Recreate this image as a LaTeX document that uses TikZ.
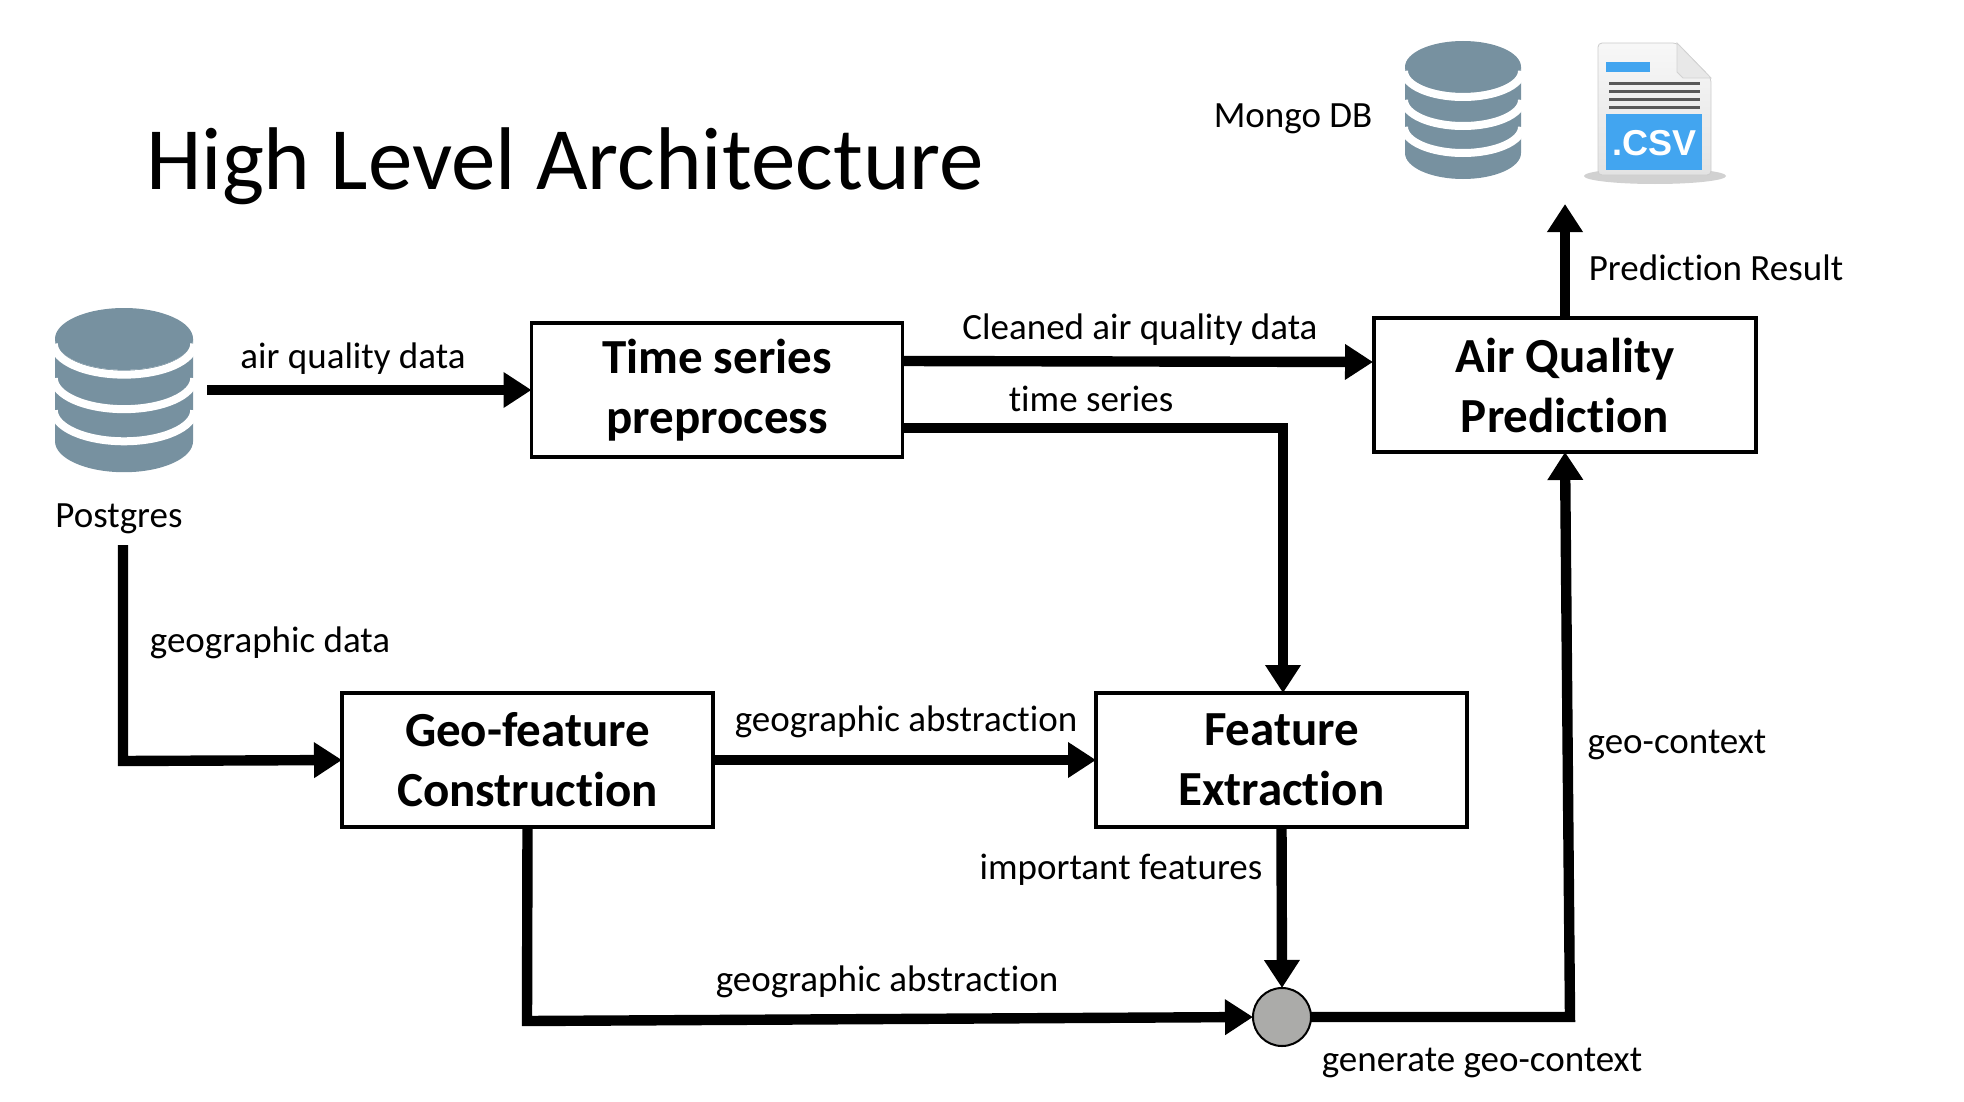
\documentclass[tikz,border=0pt]{standalone}
\usepackage{fontspec}
\setmainfont{Carlito}[Ligatures=NoCommon]
\newfontfamily\csvfont{Liberation Sans}
\usepackage{xcolor}
\usepackage{tikz}
\usetikzlibrary{positioning, arrows.meta}
\definecolor{dbblue}{HTML}{7791A0}
\definecolor{csvblue}{HTML}{42A5F0}
\definecolor{dotgray}{HTML}{ABABA9}

\tikzset{
    pics/dbicon/.style = {code = {
        \fill[dbblue] (0,26) arc[start angle=180, end angle=360, x radius=58, y radius=-26]
            -- (116,112) arc[start angle=0, end angle=-180, x radius=58, y radius=-26] -- cycle;
        \fill[dbblue] (58,26) ellipse[x radius=58, y radius=26];
        \foreach \yy in {30, 59, 86}
            \draw[white, line width=4pt] (-1,\yy) arc[start angle=180, end angle=0, x radius=59, y radius=26];
    }}
}

\begin{document}
\begin{tikzpicture}[x=0.5pt, y=-0.5pt,
    main/.style = {draw, line width=1.6pt, align=center, inner sep=0pt, outer sep=0pt, minimum width=185.5pt, minimum height=67pt,
        font=\fontsize{24.5}{30}\selectfont\bfseries},
    lab/.style = {font=\fontsize{18.5}{22}\selectfont, inner sep=0pt},
    flow/.style = {line width=5.2pt, line join=miter, -{Triangle[length=14pt, width=17pt]}}]
    \useasboundingbox (0,0) rectangle (1964,1102);

    \node[font=\fontsize{44.5}{52}\selectfont, inner sep=0pt] (title) at (565,166) {High Level Architecture};

    \pic[scale=1.19] at (55,308) {dbicon};
    \pic at (1405,41) {dbicon};

    % csv file icon
    \fill[gray!45, opacity=.8] (1655,176) ellipse[x radius=71, y radius=8];
    \shade[top color=gray!6, bottom color=gray!22, draw=gray!40, rounded corners=2pt] (1598,43) -- (1677,43) -- (1711,78) -- (1711,175) -- (1598,175) -- cycle;
    \fill[gray!18, draw=gray!35] (1677,43) -- (1711,78) -- (1683,78) -- (1677,72) -- cycle;
    \fill[csvblue] (1606,62) rectangle (1650,72);
    \foreach \yy in {84, 92, 100, 108}
        \fill[gray!70!black] (1609,\yy-1.5) rectangle (1700,\yy+1.5);
    \fill[csvblue] (1606,114) rectangle (1702,170);
    \node[font=\fontsize{18}{20}\selectfont\csvfont\bfseries, text=white, inner sep=0pt] (csv) at (1654,143) {.CSV};

    \node[main] (tsp) at (717,390) {Time series\\preprocess};
    \node[main, minimum width=191pt] (aqp) at (1565,385) {Air Quality\\Prediction};
    \node[main] (geo) at (527.5,760) {Geo-feature\\Construction};
    \node[main] (fex) at (1281.5,760) {Feature\\Extraction};
    \node[draw, circle, fill=dotgray, line width=1pt, outer sep=0pt, minimum size=29pt, inner sep=0pt] (gen) at (1282,1017) {};

    \node[lab] (l1) at (353,359) {air quality data};
    \node[lab] (l2) at (1140,330) {Cleaned air quality data};
    \node[lab] (l3) at (1091,399) {time series};
    \node[lab] (l4) at (1716,268) {Prediction Result};
    \node[lab] (l5) at (1293,119) {Mongo DB};
    \node[lab] (l6) at (119,519) {Postgres};
    \node[lab] (l7) at (270,643) {geographic data};
    \node[lab] (l8) at (906,722) {geographic abstraction};
    \node[lab] (l9) at (1677,745) {geo-context};
    \node[lab] (l10) at (1121,870) {important features};
    \node[lab] (l11) at (887,982) {geographic abstraction};
    \node[lab] (l12) at (1482,1063) {generate geo-context};

    \coordinate (c1) at (207,390);
    \coordinate (c2) at (902,361);
    \coordinate (c3) at (1373,362);
    \coordinate (c4) at (902,428);
    \coordinate (c5) at (1283,428);
    \coordinate (c6) at (1565,204);
    \coordinate (c7) at (123,545);
    \coordinate (c8) at (123,761);
    \coordinate (c9) at (527,1021);
    \coordinate (c10) at (1570,1017);

    \draw[flow] (c1) -- (tsp.west);
    \draw[flow] (c2) -- (c3);
    \draw[flow] (c4) -- (c5) -- (fex.north -| c5);
    \draw[flow] (aqp.north) -- (c6);
    \draw[flow] (c7) -- (c8) -- (geo.west);
    \draw[flow] (geo.east) -- (fex.west);
    \draw[flow] (fex.south) -- (gen.north);
    \draw[flow] (geo.south) -- (c9) -- (gen.west);
    \draw[flow] (gen.east) -- (c10) -- (aqp.south);
\end{tikzpicture}
\end{document}
